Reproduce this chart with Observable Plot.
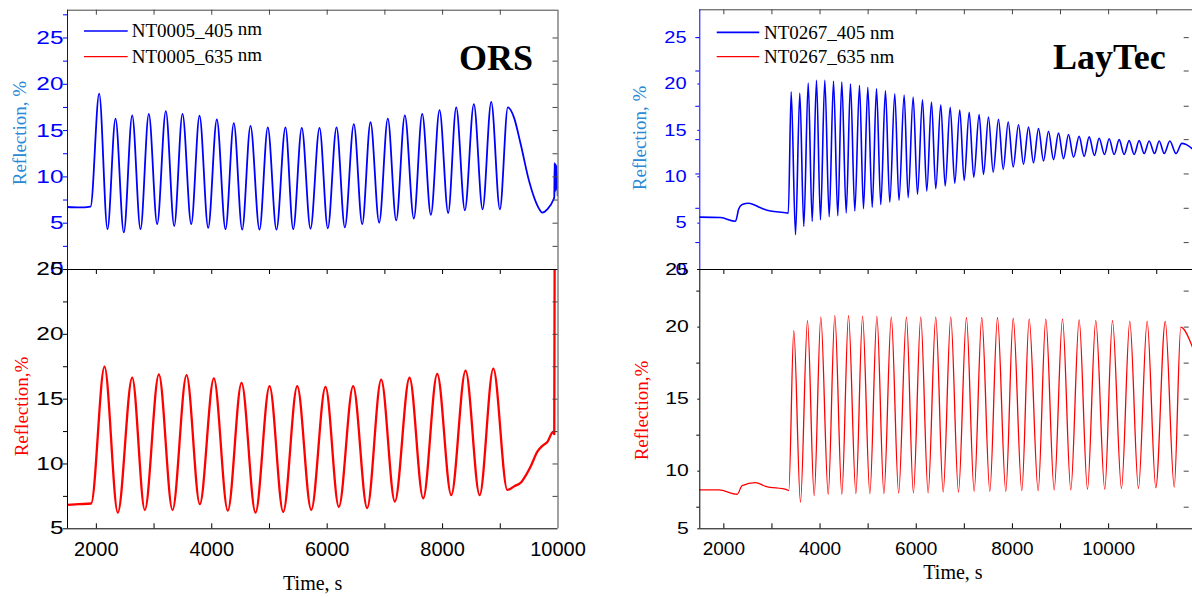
<!DOCTYPE html>
<html><head><meta charset="utf-8">
<script src="https://cdn.jsdelivr.net/npm/d3@7"></script>
<script src="https://cdn.jsdelivr.net/npm/@observablehq/plot@0.6"></script>
<style>
html,body{margin:0;padding:0;background:#fff;overflow:hidden;}
#root{position:relative;width:1192px;height:597px;overflow:hidden;background:#fff;}
.panel{position:absolute;top:0;width:600px;height:597px;}
.panel svg{overflow:visible;background:transparent;display:block;max-width:none !important;}
#legend{position:absolute;left:0;top:0;}
</style></head><body><div id="root"></div>
<script>
// ---------- data: [time (s), reflection (%)] ----------
const orsBlue = [[1500,6.75],[1700,6.7],[1900,6.8],[2049,19.0],[2193,4.35],[2332,16.3],[2476,4.0],[2621,16.65],[2765,4.35],[2909,16.8],[3054,4.9],[3204,17.1],[3349,4.7],[3493,16.8],[3644,4.9],[3788,16.6],[3938,4.5],[4088,16.2],[4238,4.35],[4382,15.8],[4527,4.3],[4671,15.5],[4827,4.3],[4971,15.35],[5121,4.3],[5277,15.35],[5411,4.35],[5560,15.3],[5711,4.4],[5867,15.3],[6011,4.45],[6162,15.35],[6306,4.55],[6462,15.7],[6607,4.9],[6751,15.9],[6901,5.05],[7051,16.3],[7196,5.3],[7346,16.65],[7502,5.5],[7647,16.8],[7797,5.9],[7947,17.2],[8097,6.1],[8236,17.5],[8386,6.4],[8542,17.85],[8693,6.5],[8843,18.1],[8993,6.5],[9131,17.5],[9235,16.45],[9351,13.6],[9495,9.65],[9582,7.85],[9668,6.6],[9728,6.15],[9814,6.5],[9918,7.5],[9935,7.8],[9942,11.5],[9950,8.4],[9958,11.4],[9966,8.6],[9975,11.2],[9995,8.0]];
const orsRed = [[1500,6.85],[1700,6.9],[1910,6.95],[2141,17.5],[2372,6.25],[2621,16.65],[2840,6.45],[3083,16.9],[3320,6.45],[3563,16.85],[3793,6.9],[4036,16.6],[4278,6.4],[4516,16.25],[4758,6.25],[5001,16.0],[5238,6.3],[5481,16.0],[5724,6.45],[5971,15.95],[6202,6.7],[6450,16.0],[6693,6.6],[6936,16.5],[7173,7.1],[7427,16.65],[7664,7.35],[7907,16.95],[8150,7.6],[8398,17.2],[8642,7.6],[8879,17.35],[9122,8.0],[9250,8.3],[9353,8.55],[9440,9.1],[9526,9.8],[9642,10.95],[9730,11.4],[9815,11.7],[9918,12.5],[9935,12.3],[9942,26]];
const layBlue = [[1500,5.65],[1930,5.6],[2242,5.2],[2311,6.55],[2381,7.0],[2519,7.15],[2762,6.65],[2970,6.3],[3317,6.1],[3340,6.05],[3400,19.15],[3490,3.75],[3579,19.0],[3662,4.65],[3754,20.1],[3837,5.2],[3926,20.4],[4009,5.35],[4099,20.4],[4190,5.7],[4280,20.3],[4369,5.8],[4452,20.2],[4544,6.1],[4633,20.0],[4723,6.3],[4820,19.85],[4903,6.55],[4993,19.65],[5085,6.7],[5174,19.5],[5263,7.0],[5360,19.3],[5450,7.25],[5554,18.95],[5641,7.45],[5749,18.8],[5832,7.75],[5936,18.6],[6026,8.1],[6130,18.3],[6219,8.45],[6317,18.05],[6406,8.7],[6510,17.75],[6602,9.0],[6706,17.5],[6801,9.3],[6905,17.2],[6997,9.6],[7101,16.95],[7196,9.95],[7308,16.7],[7398,10.25],[7502,16.45],[7600,10.5],[7710,16.2],[7808,10.8],[7912,15.9],[8016,11.05],[8126,15.6],[8230,11.35],[8334,15.35],[8438,11.5],[8542,15.2],[8646,11.7],[8750,14.9],[8854,11.85],[8958,14.7],[9062,11.95],[9166,14.55],[9270,12.1],[9387,14.35],[9491,12.2],[9595,14.3],[9705,12.3],[9803,14.15],[9914,12.4],[10011,14.1],[10115,12.4],[10219,14.0],[10323,12.4],[10427,13.9],[10531,12.4],[10635,13.9],[10739,12.5],[10843,13.85],[10954,12.5],[11052,13.85],[11156,12.5],[11273,13.85],[11400,12.5],[11522,13.6],[11600,13.5],[11742,13.0]];
const layRed = [[1500,8.7],[1895,8.7],[2277,8.4],[2381,9.0],[2658,9.2],[2866,8.95],[3317,8.7],[3350,8.65],[3454,19.75],[3593,7.85],[3739,20.45],[3878,8.3],[4016,20.7],[4170,8.4],[4307,20.8],[4453,8.4],[4592,20.8],[4745,8.45],[4884,20.75],[5036,8.45],[5182,20.75],[5328,8.45],[5481,20.7],[5634,8.5],[5796,20.7],[5941,8.5],[6094,20.7],[6247,8.5],[6406,20.7],[6560,8.55],[6718,20.7],[6878,8.55],[7044,20.65],[7204,8.6],[7363,20.65],[7530,8.6],[7689,20.65],[7862,8.6],[8016,20.6],[8195,8.65],[8348,20.55],[8535,8.65],[8694,20.55],[8868,8.7],[9041,20.55],[9213,8.7],[9387,20.5],[9560,8.75],[9733,20.45],[9920,8.75],[10080,20.45],[10267,8.8],[10440,20.4],[10620,8.8],[10801,20.4],[10981,8.85],[11177,20.4],[11364,8.9],[11501,20.0],[11744,18.6]];

// ---------- tick values and labels ----------
const xLabelTicks = [2000, 4000, 6000, 8000, 10000];
const xStepLeft = [2000, 3000, 4000, 5000, 6000, 7000, 8000, 9000];
const xStepRight = [2000, 3000, 4000, 5000, 6000, 7000, 8000, 9000, 10000, 11000];
const yTopMajor = [0, 5, 10, 15, 20, 25];
const yTopHalf = [2.5, 7.5, 12.5, 17.5, 22.5, 27.5];
const yTopStep = [2.5, 5, 7.5, 10, 12.5, 15, 17.5, 20, 22.5, 25];
const yBLMajor = [5, 10, 15, 20, 25];
const yBLHalf = [7.5, 12.5, 17.5, 22.5];
const yTRMinor = [2.9, 6.6, 10.3, 14.0, 17.6, 21.4, 25.0];
const yBRTicks = [6, 10, 15, 20, 24];
const yBRLabels = ["5", "10", "15", "20", "25"];
const yBRStep = [7.5, 10, 12.5, 15, 17.5, 20, 22.5];
const legendLeft = ["NT0005_405", "NT0005_635"];
const legendRight = ["NT0267_405 nm", "NT0267_635 nm"];
const unitText = "nm";
const titles = ["ORS", "LayTec"];
const yTitles = ["Reflection, %", "Reflection,%"];
const xTitle = "Time, s";

const blue = "#0000ff", red = "#ff0000", labelBlue = "#2889d6", edge = "#444";
const serif = "'Liberation Serif','Times New Roman',serif";
const sans = "'Liberation Sans',Arial,sans-serif";
const X = d => d[0], Y = d => d[1];
const plain = d => String(d);
const root = document.getElementById("root");

function place(svg, left, stretch) {
  const div = document.createElement("div");
  div.className = "panel";
  div.style.left = left + "px";
  svg.style.maxWidth = "none";
  div.appendChild(svg);
  root.appendChild(div);
  if (stretch) {
    svg.querySelectorAll('g[aria-label*="y-axis"] text').forEach(t => {
      const w = t.getComputedTextLength();
      if (w > 0) { t.setAttribute("textLength", w * stretch); t.setAttribute("lengthAdjust", "spacingAndGlyphs"); }
    });
  }
}
const st = {background: "transparent", overflow: "visible", maxWidth: "none"};

// ---------- ORS top ----------
const tlH = 280 - 9.7 - 11, tlW = 600 - 67 - 42.5;
place(Plot.plot({
  width: 600, height: 280, marginLeft: 67, marginRight: 42.5, marginTop: 9.7, marginBottom: 11,
  x: {domain: [1500, 10000], axis: null}, y: {domain: [0, 28], axis: null}, style: st,
  marks: [
    Plot.line(orsBlue, {x: X, y: Y, stroke: blue, strokeWidth: 1.8, curve: "monotone-x", clip: true}),
    Plot.ruleY([28], {stroke: edge}),
    Plot.ruleX([10000], {stroke: edge}),
    Plot.ruleX([1500], {stroke: blue}),
    Plot.ruleX(xStepLeft, {stroke: edge, insetBottom: tlH - 5}),
    Plot.ruleY(yTopStep, {stroke: edge, insetLeft: tlW - 5}),
    Plot.axisY(yTopMajor, {anchor: "left", tickSize: 4, tickPadding: 0, fontSize: 18.5, fontFamily: sans, color: blue, label: null, tickFormat: plain}),
    Plot.axisY(yTopHalf, {anchor: "left", tickSize: 4, tickFormat: () => "", color: blue, label: null}),
    Plot.text([titles[0]], {frameAnchor: "top-right", textAnchor: "end", lineAnchor: "bottom", dx: -25, dy: 59.6, fontFamily: serif, fontWeight: "bold", fontSize: 36, fill: "#000"}),
    Plot.text([yTitles[0]], {frameAnchor: "left", textAnchor: "middle", lineAnchor: "middle", rotate: -90, dx: -48, dy: -6.8, fontFamily: serif, fontSize: 19, fill: labelBlue})
  ]
}), 0, 1.32);

// ---------- ORS bottom ----------
const blH = 528.3 - 269, blW = tlW;
place(Plot.plot({
  width: 600, height: 597, marginLeft: 67, marginRight: 42.5, marginTop: 269, marginBottom: 597 - 528.3,
  x: {domain: [1500, 10000], axis: null}, y: {domain: [5, 25], axis: null}, style: st,
  marks: [
    Plot.line(orsRed, {x: X, y: Y, stroke: red, strokeWidth: 2.3, curve: "monotone-x", clip: true}),
    Plot.ruleY([25], {stroke: "#000"}),
    Plot.ruleY([5], {stroke: "#000"}),
    Plot.ruleX([1500], {stroke: "#000"}),
    Plot.ruleX([10000], {stroke: edge}),
    Plot.ruleX(xStepLeft, {stroke: "#000", insetBottom: blH - 5}),
    Plot.ruleX(xStepLeft, {stroke: "#000", insetTop: blH - 5}),
    Plot.ruleY(yTopStep.filter(v => v > 5 && v < 25), {stroke: edge, insetLeft: blW - 5}),
    Plot.axisY(yBLMajor, {anchor: "left", tickSize: 4, tickPadding: 0, fontSize: 17.7, fontFamily: sans, color: "#000", label: null, tickFormat: plain}),
    Plot.axisY(yBLHalf, {anchor: "left", tickSize: 4, tickFormat: () => "", color: "#000", label: null}),
    Plot.axisX(xLabelTicks, {anchor: "bottom", tickSize: 0, tickPadding: 13, fontSize: 20, fontFamily: sans, color: "#000", label: null, tickFormat: plain}),
    Plot.text([xTitle], {frameAnchor: "bottom", textAnchor: "middle", lineAnchor: "bottom", dy: 61, fontFamily: serif, fontSize: 20, fill: "#000"}),
    Plot.text([yTitles[1]], {frameAnchor: "left", textAnchor: "middle", lineAnchor: "middle", rotate: -90, dx: -46, dy: 7.3, fontFamily: serif, fontSize: 19, fill: red})
  ]
}), 0, 1.38);

// ---------- LayTec top ----------
const trH = 280 - 9.3 - 11, trW = 600 - 99.3 - 5.3;
place(Plot.plot({
  width: 600, height: 280, marginLeft: 99.3, marginRight: 5.3, marginTop: 9.3, marginBottom: 11,
  x: {domain: [1500, 11800], axis: null}, y: {domain: [0, 28], axis: null}, style: st,
  marks: [
    Plot.line(layBlue, {x: X, y: Y, stroke: blue, strokeWidth: 1.6, curve: "monotone-x", clip: true}),
    Plot.ruleY([28], {stroke: edge}),
    Plot.ruleX([1500], {stroke: blue}),
    Plot.ruleX(xStepRight, {stroke: edge, insetBottom: trH - 5}),
    Plot.ruleY(yTRMinor, {stroke: edge, insetLeft: trW - 11, insetRight: 6}),
    Plot.axisY(yTopMajor, {anchor: "left", tickSize: 2, tickPadding: 11.3, fontSize: 16, fontFamily: sans, color: blue, label: null, tickFormat: plain}),
    Plot.axisY(yTRMinor, {anchor: "left", tickSize: 4, tickFormat: () => "", color: blue, label: null}),
    Plot.text([titles[1]], {frameAnchor: "top-right", textAnchor: "end", lineAnchor: "bottom", dx: -29.4, dy: 59, fontFamily: serif, fontWeight: "bold", fontSize: 36, fill: "#000"}),
    Plot.text([yTitles[0]], {frameAnchor: "left", textAnchor: "middle", lineAnchor: "middle", rotate: -90, dx: -59.8, dy: -1.7, fontFamily: serif, fontSize: 19, fill: labelBlue})
  ]
}), 600, 1.25);

// ---------- LayTec bottom ----------
const brH = 528.3 - 269, brW = trW;
place(Plot.plot({
  width: 600, height: 597, marginLeft: 99.3, marginRight: 5.3, marginTop: 269, marginBottom: 597 - 528.3,
  x: {domain: [1500, 11800], axis: null}, y: {domain: [6, 24], axis: null}, style: st,
  marks: [
    Plot.line(layRed, {x: X, y: Y, stroke: red, strokeWidth: 1.3, curve: "monotone-x", clip: true}),
    Plot.ruleY([24], {stroke: "#000"}),
    Plot.ruleY([6], {stroke: "#000"}),
    Plot.ruleX([1500], {stroke: "#000"}),
    Plot.ruleX(xStepRight, {stroke: "#000", insetBottom: brH - 5}),
    Plot.ruleX(xStepRight, {stroke: "#000", insetTop: brH - 5}),
    Plot.ruleY(yBRStep, {stroke: edge, insetLeft: brW - 11, insetRight: 6}),
    Plot.axisY(yBRTicks, {anchor: "left", tickSize: 2, tickPadding: 9, fontSize: 16.3, fontFamily: sans, color: "#000", label: null, tickFormat: d => yBRLabels[yBRTicks.indexOf(d)]}),
    Plot.axisY(yBLHalf, {anchor: "left", tickSize: 3, tickFormat: () => "", color: "#000", label: null}),
    Plot.axisX(xLabelTicks, {anchor: "bottom", tickSize: 0, tickPadding: 13, fontSize: 19, fontFamily: sans, color: "#000", label: null, tickFormat: plain}),
    Plot.text([xTitle], {frameAnchor: "bottom", textAnchor: "middle", lineAnchor: "bottom", dx: 5.5, dy: 50, fontFamily: serif, fontSize: 20, fill: "#000"}),
    Plot.text([yTitles[1]], {frameAnchor: "left", textAnchor: "middle", lineAnchor: "middle", rotate: -90, dx: -58.3, dy: 11.3, fontFamily: serif, fontSize: 19, fill: red})
  ]
}), 600, 1.3);

// ---------- legends ----------
const lg = d3.select(root).append("svg").attr("id", "legend").attr("width", 1192).attr("height", 597);
const legColors = [blue, red];
legendLeft.forEach((name, i) => {
  const y = [31, 56.7][i];
  lg.append("line").attr("x1", 84).attr("x2", 127.7).attr("y1", y).attr("y2", y).attr("stroke", legColors[i]).attr("stroke-width", 1.3);
  lg.append("text").attr("x", 131.7).attr("y", y + 6).attr("font-family", serif).attr("font-size", 19).text(name);
  lg.append("text").attr("x", 237.7).attr("y", y + 4).attr("font-family", serif).attr("font-size", 19).text(unitText);
});
legendRight.forEach((name, i) => {
  const y = [32.3, 56.7][i];
  lg.append("line").attr("x1", 716.7).attr("x2", 759.3).attr("y1", y).attr("y2", y).attr("stroke", legColors[i]).attr("stroke-width", i ? 1.2 : 1.8);
  lg.append("text").attr("x", 764).attr("y", y + 6.5).attr("font-family", serif).attr("font-size", 19).text(name);
});
</script></body></html>
